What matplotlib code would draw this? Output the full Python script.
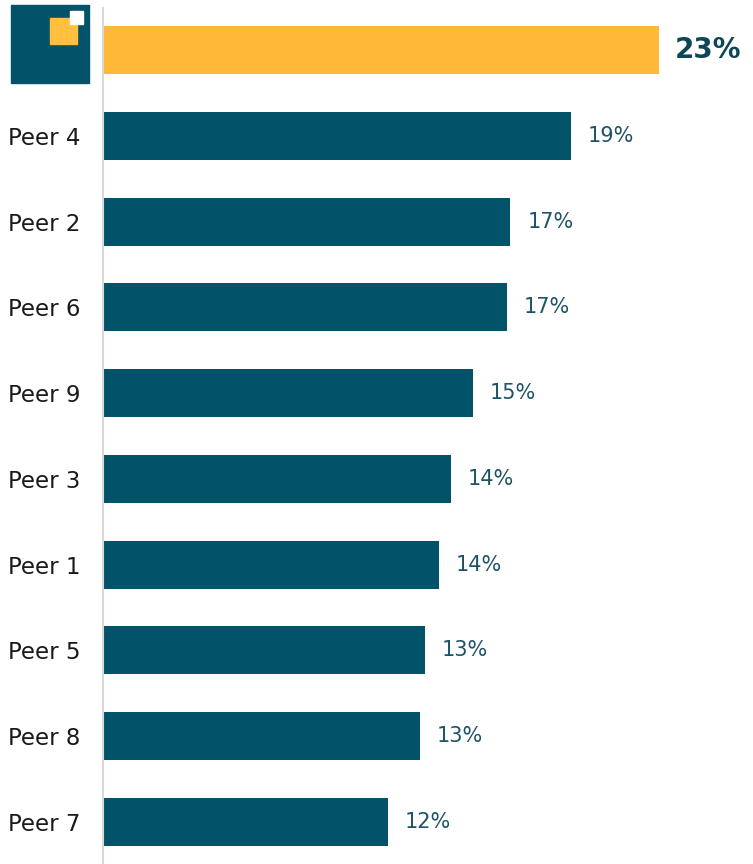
import matplotlib
matplotlib.use("Agg")
import matplotlib.pyplot as plt
from matplotlib.patches import Rectangle

# peer values, company first
names = ["", "Peer 4", "Peer 2", "Peer 6", "Peer 9", "Peer 3", "Peer 1", "Peer 5", "Peer 8", "Peer 7"]
values = [23.0, 19.35, 16.85, 16.7, 15.3, 14.4, 13.9, 13.3, 13.1, 11.8]

teal = "#02536a"
gold = "#ffb838"
label_teal = "#1d5366"

W, H = 753, 864
fig = plt.figure(figsize=(W / 100, H / 100), dpi=100)
ax = fig.add_axes([103 / W, 0, 650 / W, (H - 8) / H])

colors = [gold] + [teal] * (len(values) - 1)
ypos = list(range(len(values)))
ax.barh(ypos, values, height=0.56, color=colors, zorder=2)

ax.set_xlim(0, 650 / (556 / 23.0))
ax.set_ylim(len(values) - 0.51, -0.49)

for s in ["top", "right", "bottom"]:
    ax.spines[s].set_visible(False)
ax.spines["left"].set_color("#d9d9d9")
ax.spines["left"].set_linewidth(1.5)
ax.set_xticks([])
ax.set_yticks(ypos)
ax.set_yticklabels(names, fontsize=16.5, color="#1a1a1a")
ax.tick_params(axis="y", length=0, pad=16.5)

for i, v in enumerate(values):
    if i == 0:
        ax.text(v + 0.65, i, f"{v:.0f}%", va="center", ha="left",
                fontsize=20, fontweight="bold", color="#0d4656")
    else:
        ax.text(v + 0.7, i, f"{v:.0f}%", va="center", ha="left",
                fontsize=15, color=label_teal)

# company logo in place of the first label
fig.patches.append(Rectangle((11 / W, 1 - 83 / H), 78 / W, 78 / H,
                             transform=fig.transFigure, color=teal, zorder=3))
fig.patches.append(Rectangle((50 / W, 1 - 44 / H), 27 / W, 26 / H,
                             transform=fig.transFigure, color="#fec03e", zorder=4))
fig.patches.append(Rectangle((70 / W, 1 - 24 / H), 13 / W, 13 / H,
                             transform=fig.transFigure, color="white", zorder=5))

fig.savefig("out.png", dpi=100)
